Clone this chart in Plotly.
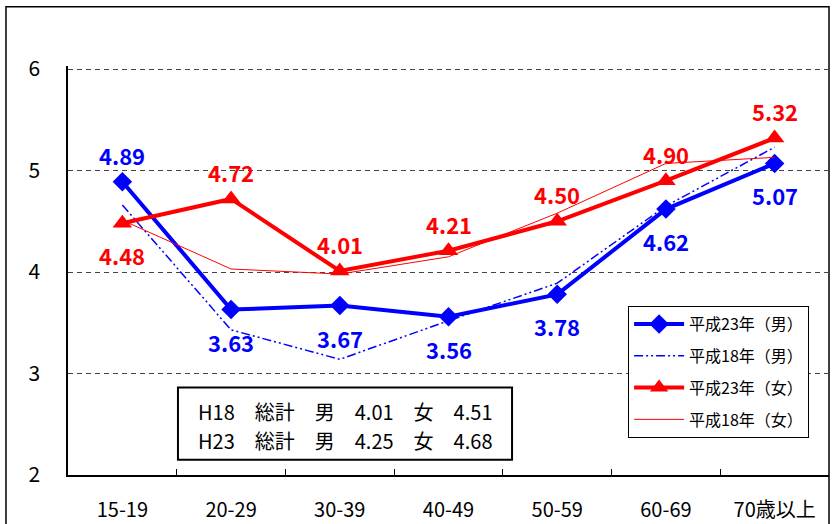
import plotly.graph_objects as go

# Age groups on the horizontal axis
age_groups = ["15-19", "20-29", "30-39", "40-49", "50-59", "60-69", "70歳以上"]

# Average values per age group
h23_male = [4.89, 3.63, 3.67, 3.56, 3.78, 4.62, 5.07]
h18_male = [4.66, 3.43, 3.14, 3.52, 3.89, 4.65, 5.23]
h23_female = [4.48, 4.72, 4.01, 4.21, 4.50, 4.90, 5.32]
h18_female = [4.51, 4.03, 3.98, 4.15, 4.58, 5.07, 5.13]

# Label placement for the H23 series: +1 = above the marker, -1 = below
h23_male_side = [1, -1, -1, -1, -1, -1, -1]
h23_female_side = [-1, 1, 1, 1, 1, 1, 1]

summary_lines = [
    "H18\u3000総計\u3000男\u30004.01\u3000女\u30004.51",
    "H23\u3000総計\u3000男\u30004.25\u3000女\u30004.68",
]

BLUE = "#0000FF"
RED = "#FF0000"
FONT = "Noto Sans CJK JP"

fig = go.Figure()

fig.add_trace(go.Scatter(
    x=age_groups, y=h23_male, name="平成23年（男）", mode="lines+markers",
    line=dict(color=BLUE, width=4),
    marker=dict(symbol="diamond", size=15, color=BLUE),
    legendgroup="a",
))
fig.add_trace(go.Scatter(
    x=age_groups, y=h18_male, name="平成18年（男）", mode="lines",
    line=dict(color=BLUE, width=1.5, dash="9px,3px,2px,3px,2px,3px"),
    legendgroup="b",
))
fig.add_trace(go.Scatter(
    x=age_groups, y=h23_female, name="平成23年（女）", mode="lines+markers",
    line=dict(color=RED, width=4),
    marker=dict(symbol="triangle-up", size=17, color=RED),
    legendgroup="c",
))
fig.add_trace(go.Scatter(
    x=age_groups, y=h18_female, name="平成18年（女）", mode="lines",
    line=dict(color=RED, width=1),
    legendgroup="d",
))

annotations = []
for series, sides, color in ((h23_male, h23_male_side, BLUE),
                             (h23_female, h23_female_side, RED)):
    for cat, val, side in zip(age_groups, series, sides):
        annotations.append(dict(
            x=cat, y=val, xref="x", yref="y", text=f"{val:.2f}",
            showarrow=False, yshift=27 if side > 0 else -32,
            font=dict(family=FONT, size=22, color=color, weight="bold"),
        ))

# Summary box text
for i, line in enumerate(summary_lines):
    annotations.append(dict(
        x=0.364, y=0.155 - i * 0.07, xref="paper", yref="paper",
        text=line, showarrow=False, xanchor="center", yanchor="middle",
        font=dict(family=FONT, size=20, color="black"),
    ))

shapes = [
    # outer frame
    dict(type="rect", xref="paper", yref="paper",
         x0=-0.0815, x1=1.0, y0=-0.2, y1=1.145,
         line=dict(color="black", width=1.5), fillcolor="rgba(0,0,0,0)", layer="below"),
    # summary box
    dict(type="rect", xref="paper", yref="paper",
         x0=0.1445, x1=0.5835, y0=0.037, y1=0.214,
         line=dict(color="black", width=2), fillcolor="white"),
]

fig.update_layout(
    width=840, height=524,
    margin=dict(l=68, r=11, t=66, b=49),
    paper_bgcolor="white", plot_bgcolor="white",
    font=dict(family=FONT, color="black"),
    showlegend=True,
    legend=dict(
        x=0.736, y=0.413, xanchor="left", yanchor="top",
        bgcolor="white", bordercolor="black", borderwidth=1,
        font=dict(family=FONT, size=16, color="black"),
        traceorder="grouped", tracegroupgap=8, itemwidth=50,
    ),
    xaxis=dict(
        type="category", range=[-0.5, 6.5], showgrid=False,
        showline=True, linecolor="black", linewidth=1.5,
        ticks="inside", ticklen=6, tickcolor="black", tickson="boundaries",
        tickfont=dict(family=FONT, size=20, color="black"),
        ticklabelstandoff=16, zeroline=False, automargin=False,
    ),
    yaxis=dict(
        range=[2, 6.03], tickvals=[2, 3, 4, 5, 6], ticktext=["2", "3", "4", "5", "6"],
        showgrid=True, gridcolor="#444444", gridwidth=1, griddash="5px,4px",
        showline=True, linecolor="black", linewidth=1.5,
        ticks="", zeroline=False, automargin=False,
        tickfont=dict(family=FONT, size=21, color="black"),
        ticklabelstandoff=22,
    ),
    annotations=annotations,
    shapes=shapes,
)

fig.write_html("out.html")
